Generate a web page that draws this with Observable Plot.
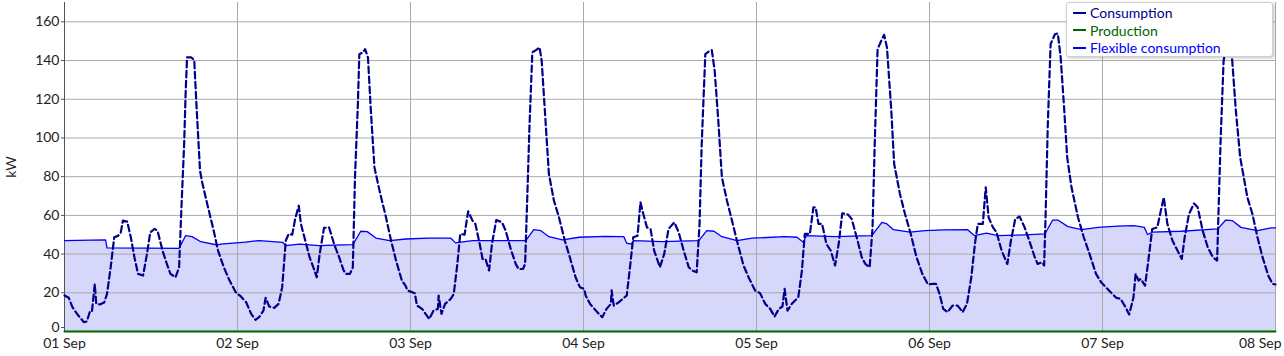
<!DOCTYPE html>
<html>
<head>
<meta charset="utf-8">
<script src="https://cdn.jsdelivr.net/npm/d3@7"></script>
<script src="https://cdn.jsdelivr.net/npm/@observablehq/plot@0.6"></script>
<style>
  html, body { margin: 0; padding: 0; background: #fff; }
  #wrap { position: relative; width: 1284px; height: 356px; font-family: Lato, "Noto Sans", sans-serif; }
  #legend { position: absolute; left: 1066px; top: 2px; width: 207px; height: 55px; background: #fff;
    border: 1px solid #d0d0d0; border-radius: 3px; box-shadow: 1px 1px 3px rgba(0,0,0,0.25);
    font-size: 14px; line-height: 17.5px; padding-top: 1px; box-sizing: border-box; }
  #legend .item { display: flex; align-items: center; height: 17.5px; padding-left: 6px; }
  #legend .sw { width: 13px; height: 2px; margin-right: 4px; }
</style>
</head>
<body>
<div id="wrap"><div id="chart"></div><div id="legend"></div></div>
<script>
// ---- data (hours since 01 Sep 00:00, kW) ----
const consHours = [0,0.6,1.1,1.8,2.7,3.1,3.5,3.8,4.2,4.4,4.9,5.5,5.9,6.4,6.9,7.4,7.8,8.1,8.7,9.2,9.7,10.2,10.9,11.4,11.9,12.5,12.9,13.6,14.2,14.7,15.4,15.9,16.2,16.6,16.8,17.0,17.6,18.0,18.3,18.8,19.1,19.8,20.7,21.3,22.1,22.9,23.75,
24.5,25.2,25.9,26.5,27,27.6,27.9,28.4,29.1,29.7,30.2,30.7,31.1,31.6,32,32.5,32.8,33.4,34,34.6,35,35.4,36,36.7,37.4,38.1,38.7,39,39.6,40,40.3,40.7,40.9,41.4,41.7,42.1,42.5,43,43.7,44.6,45.3,46,46.8,47.3,47.6,
48.6,48.9,49.6,50.6,51.2,51.8,51.9,52.3,52.8,53.6,54,54.5,54.9,55.5,56,56.6,57,57.6,58,58.4,58.9,59.3,59.9,60.7,61.2,61.9,62.6,63,63.6,63.9,64.2,64.5,64.9,65.4,65.9,66.2,66.7,67.2,67.9,68.6,69.4,70.1,70.9,71.5,72.1,
72.3,72.9,73.9,74.6,75.2,75.8,75.9,76.2,76.9,78,78.5,78.9,79.5,79.9,80.3,80.8,81.3,81.8,82.6,83.2,83.8,84.6,85.2,85.9,86.6,87.1,87.7,88.1,88.4,88.9,89.4,89.8,90.2,90.7,91.2,91.9,92.6,93.4,94.2,94.9,95.8,
96.5,97.2,97.9,98.5,99.1,99.6,99.9,100.3,100.9,101.8,102.3,102.7,103.4,103.9,104.2,104.6,105.1,105.7,106.3,106.9,107.4,107.9,108.7,109.2,109.9,110.6,111.1,111.7,112.1,112.4,112.8,113.3,113.7,114.1,114.7,115.1,115.9,116.6,117.4,118.2,119,119.8,
120.4,120.9,121.4,121.9,122.5,123.2,123.9,124.6,125.2,125.8,126.3,126.7,127.4,127.8,128.2,128.8,129.3,130,130.8,131.3,131.9,132.5,133.2,134,134.6,135,135.6,135.9,136.1,136.4,136.8,137.4,137.8,138.2,138.7,139.1,139.7,140.6,141.4,142.2,143.1,143.8,
144.9,145.9,146.5,147.2,147.7,148.3,148.6,149,149.3,149.9,150.3,150.9,151.6,152.1,152.5,153,153.7,154.4,155,155.4,156,156.7,157.2,157.9,158.6,159.3,159.9,160.1,160.4,160.8,161.2,161.7,162,162.5,163.1,164.1,164.8,165.5,166.2,167,167.6,168];
const consKW = [18.6,17.4,12.6,8.8,4.8,5.2,10,10,24.6,14.3,14,15,19.4,33,48.7,49.4,51,57.3,56.8,48.7,38.4,29.8,28.9,39.2,51.3,53,52.1,41.8,34.9,29.8,28,33.2,62,96.9,122.7,141.6,141.6,140.2,117.5,83.1,77.1,65.9,52.1,41.8,33.2,26.3,20.3,
18,15.1,9.1,6,7.4,10.8,17.4,12.9,12.2,14.3,22.9,47,50.4,50.1,58.2,65,55.6,47,38.4,32.3,28,40.1,53.5,53.8,45.2,38.4,31.8,29.8,29.8,33.2,79.7,117.5,143.3,144.2,145.9,141.6,114.1,84.8,72.8,59,47,36.6,26.3,23.7,21.2,
19.8,13.4,11.7,6.5,10.8,11.7,18.6,9.1,14.3,16.9,19.4,34.9,50.4,50.1,62.1,57.3,55.6,45.2,37.5,37.5,31.5,45.2,57.6,56.4,52.1,42.7,34.9,32.3,32.3,34.9,69.3,105.5,144.2,145.4,146.8,139.9,110.6,81.4,67.6,59,47,38.4,28,22.9,22,
18.6,14.3,10,7.4,11.7,14.3,21.2,13.4,15.1,18.6,34.9,48.7,49.5,66.8,60.7,53.8,53,41.8,33.2,40.1,53,56.4,51.3,41.8,33.2,31.5,30.6,55.6,96.9,143.3,144.7,145.4,134.7,108.9,79.7,67.6,57.3,45.2,34.1,28,21.2,
19.8,14.3,11.7,7.7,11.7,12.9,22,10.8,14.3,17.7,31.5,50.4,50.4,64.2,64.2,55.6,55.6,45.2,41.8,34.1,45.2,61.1,60.4,58.2,48.7,38.4,34.9,33.2,53.8,96.9,145.9,150.2,153.3,146.8,114.1,86.5,71.1,60.7,50.4,38.4,29.8,24.3,
24.6,24.6,19.4,11.7,10,13.4,13.4,10,14.3,28,45.2,55.6,55.6,74.5,59,53.8,51.3,41.8,34.9,47,58.2,59.4,53.8,45.2,38.4,34.9,35.8,34.1,59,105.5,148.5,153.6,154,141.6,114.1,90,74.5,59,48.7,40.1,29.8,25.5,
21.2,17.4,16.9,12.6,8.8,17.7,29.8,26.3,27.2,23.7,34.9,53,53.8,62.5,69.3,55.6,47,41.8,37.5,48.7,60.7,66.2,64.2,52.1,43.5,38.4,36.6,62.5,100.3,139.9,148,149,139.9,114.1,90,69.3,60.7,48.7,38.4,28.9,24.6,24.3];

const flexHours = [0,5.7,5.9,15.9,16.8,17.7,18.9,21.2,21.7,25.1,27,30.25,30.7,32.6,35.3,40,41.1,42,43.2,45.1,47.4,
50.5,53.6,54.25,56.6,64,65.1,66.1,67.2,69.1,71.4,75,77.6,78,78.7,78.9,82.9,88,89.1,90.1,91.2,93.3,95.4,
99.9,101.6,102.5,102.9,106.9,112,113.4,114.1,115,117.3,119.4,122.1,125.3,126.25,127.9,129.5,133.2,136,137.1,137.8,139.2,141.1,143.4,
146.1,148.4,149.8,150.25,150.9,154.9,160,161.1,162,163.2,165.5,167.4,168];
const flexKW = [47,47.3,43.2,43,49.5,49,46.4,44.7,45.2,46.2,47,46.1,44.4,45.2,44.4,44.9,51.8,51.6,48.3,47,47.8,
48.3,48.2,45.8,47,47,52.6,52.1,49,47.3,48.7,49.2,49,45.6,45.2,47,46.4,47,52.1,51.8,49,47,48.2,
49,48.7,46.1,49.5,49,49.5,56.4,55.6,52.6,51.3,52.1,52.5,52.6,49.5,50.8,49.5,49.9,50.4,57.6,57.6,54.2,52.6,53.8,
54.4,54.7,53.8,50.1,51.3,51.8,53,57.6,57.3,53.8,52.1,53.5,53.5];

const prodHours = [0, 168];
const prodKW = [0, 0];

const dayTicks = [0,1,2,3,4,5,6,7];          // days after 01 Sep
const yTicks = [0,20,40,60,80,100,120,140,160];

const seriesNames = ["Consumption", "Production", "Flexible consumption"];
const seriesColors = ["#00008b", "#006400", "#0000ff"];

// ---- build ----
const t0 = Date.UTC(2024, 8, 1);
const toDate = h => new Date(t0 + h * 3600e3);
const cons = consHours.map((h, i) => ({t: toDate(h), v: consKW[i]}));
const flex = flexHours.map((h, i) => ({t: toDate(h), v: flexKW[i]}));
const prod = prodHours.map((h, i) => ({t: toDate(h), v: prodKW[i]}));
const xTicks = dayTicks.map(d => toDate(d * 24));
const fmt = d3.utcFormat("%d %b");

const chart = Plot.plot({
  width: 1284,
  height: 356,
  marginLeft: 64,
  marginRight: 9,
  marginTop: 2,
  marginBottom: 25,
  style: {fontFamily: "Lato, 'Noto Sans', sans-serif", fontSize: "14px", color: "#222", background: "#fff"},
  x: {type: "utc", domain: [xTicks[0], xTicks[7]]},
  y: {domain: [0, 170]},
  marks: [
    Plot.areaY(flex, {x: "t", y: "v", fill: "#d7d7fb"}),
    Plot.gridY(yTicks, {stroke: "#aaaaaa", strokeOpacity: 1}),
    Plot.gridX(xTicks, {stroke: "#aaaaaa", strokeOpacity: 1}),
    Plot.ruleX([xTicks[0]], {stroke: "#555"}),
    Plot.lineY(flex, {x: "t", y: "v", stroke: seriesColors[2], strokeWidth: 1.3}),
    Plot.lineY(prod, {x: "t", y: "v", stroke: seriesColors[1], strokeWidth: 2}),
    Plot.lineY(cons, {x: "t", y: "v", stroke: seriesColors[0], strokeWidth: 2.2, strokeDasharray: "6.5,3.5"}),
    Plot.axisY(yTicks.slice(1), {tickSize: 3, tickPadding: 2, fontSize: 14, stroke: "#555",
      label: "kW", labelAnchor: "center", labelArrow: "none", labelOffset: 58}),
    Plot.axisY(yTicks.slice(0, 1), {tickSize: 3, tickPadding: 2, fontSize: 14, stroke: "#555", label: null, dy: -4}),
    Plot.axisX(xTicks.slice(0, 7), {tickSize: 0, tickPadding: 7, fontSize: 14, tickFormat: fmt, label: null}),
    Plot.axisX(xTicks.slice(7), {tickSize: 0, tickPadding: 7, fontSize: 14, tickFormat: fmt, label: null, textAnchor: "end", dx: 6})
  ]
});
document.getElementById("chart").appendChild(chart);

const legend = document.getElementById("legend");
seriesNames.forEach((name, i) => {
  const item = document.createElement("div");
  item.className = "item";
  const sw = document.createElement("span");
  sw.className = "sw";
  sw.style.background = seriesColors[i];
  const tx = document.createElement("span");
  tx.textContent = name;
  tx.style.color = seriesColors[i];
  item.appendChild(sw);
  item.appendChild(tx);
  legend.appendChild(item);
});
</script>
</body>
</html>
